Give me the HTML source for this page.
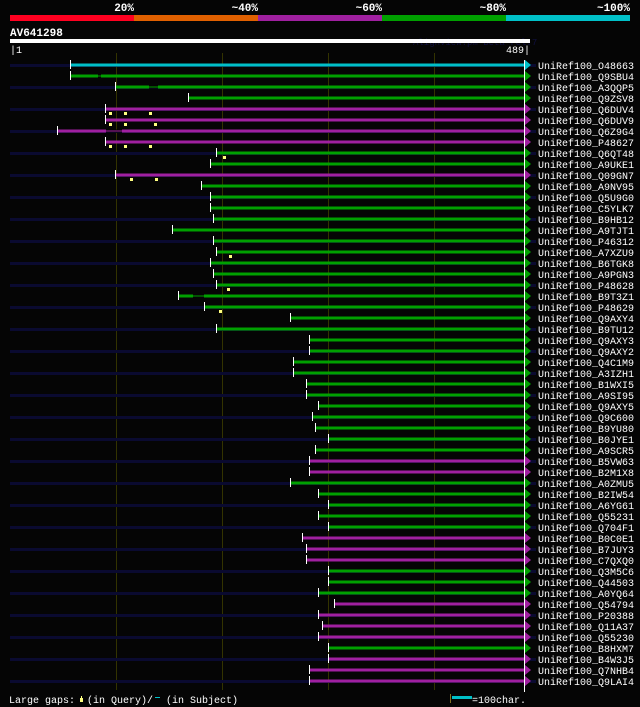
<!DOCTYPE html>
<html><head><meta charset="utf-8"><style>
html,body{margin:0;padding:0;background:#050505;}
svg{display:block;font-family:"Liberation Mono",monospace;}
</style></head><body>
<svg width="640" height="707" viewBox="0 0 640 707" xmlns="http://www.w3.org/2000/svg">
<rect width="640" height="707" fill="#050505"/>
<g font-weight="bold" font-size="11" fill="#fff" text-anchor="end">
<text x="134" y="11">20%</text><text x="258" y="11">~40%</text><text x="382" y="11">~60%</text><text x="506" y="11">~80%</text><text x="630" y="11">~100%</text>
</g>
<rect x="10" y="15" width="124" height="6" fill="#ff0020"/>
<rect x="134" y="15" width="124" height="6" fill="#e06000"/>
<rect x="258" y="15" width="124" height="6" fill="#a020a0"/>
<rect x="382" y="15" width="124" height="6" fill="#00a000"/>
<rect x="506" y="15" width="124" height="6" fill="#00c0c8"/>
<text x="10" y="36" font-weight="bold" font-size="11" fill="#fff">AV641298</text>
<text x="413" y="45" font-size="9" fill="#101040">AlignView.pm Beta rel.7</text>
<rect x="10" y="39" width="520" height="4" fill="#fff"/>
<text x="10" y="53" font-size="10" fill="#fff">|1</text>
<text x="530" y="53" font-size="10" fill="#fff" text-anchor="end">489|</text>
<g stroke="#333300" stroke-width="1">
<line x1="116.5" y1="53" x2="116.5" y2="690"/><line x1="222.5" y1="53" x2="222.5" y2="690"/><line x1="328.5" y1="53" x2="328.5" y2="690"/><line x1="434.5" y1="53" x2="434.5" y2="690"/>
</g>
<g id="rows" font-size="10" fill="#fff">
<!-- navy lines on odd rows -->
<g fill="#0a0a30">
<rect x="10" y="64" width="526" height="3"/><rect x="10" y="86" width="526" height="3"/><rect x="10" y="108" width="526" height="3"/><rect x="10" y="130" width="526" height="3"/><rect x="10" y="152" width="526" height="3"/><rect x="10" y="174" width="526" height="3"/><rect x="10" y="196" width="526" height="3"/><rect x="10" y="218" width="526" height="3"/><rect x="10" y="240" width="526" height="3"/><rect x="10" y="262" width="526" height="3"/><rect x="10" y="284" width="526" height="3"/><rect x="10" y="306" width="526" height="3"/><rect x="10" y="328" width="526" height="3"/><rect x="10" y="350" width="526" height="3"/><rect x="10" y="372" width="526" height="3"/><rect x="10" y="394" width="526" height="3"/><rect x="10" y="416" width="526" height="3"/><rect x="10" y="438" width="526" height="3"/><rect x="10" y="460" width="526" height="3"/><rect x="10" y="482" width="526" height="3"/><rect x="10" y="504" width="526" height="3"/><rect x="10" y="526" width="526" height="3"/><rect x="10" y="548" width="526" height="3"/><rect x="10" y="570" width="526" height="3"/><rect x="10" y="592" width="526" height="3"/><rect x="10" y="614" width="526" height="3"/><rect x="10" y="636" width="526" height="3"/><rect x="10" y="658" width="526" height="3"/><rect x="10" y="680" width="526" height="3"/>
</g>
<!-- bars: y = row center - 1.5 -->
<g>
<rect x="70" y="63.5" width="454" height="3" fill="#00c0c8"/>
<rect x="70" y="74.5" width="454" height="3" fill="#00a000"/>
<rect x="115" y="85.5" width="409" height="3" fill="#00a000"/>
<rect x="188" y="96.5" width="336" height="3" fill="#00a000"/>
<rect x="105" y="107.5" width="419" height="3" fill="#a020a0"/>
<rect x="105" y="118.5" width="419" height="3" fill="#a020a0"/>
<rect x="58" y="129.5" width="466" height="3" fill="#a020a0"/>
<rect x="105" y="140.5" width="419" height="3" fill="#a020a0"/>
<rect x="217" y="151.5" width="307" height="3" fill="#00a000"/>
<rect x="211" y="162.5" width="313" height="3" fill="#00a000"/>
<rect x="115" y="173.5" width="409" height="3" fill="#a020a0"/>
<rect x="202" y="184.5" width="322" height="3" fill="#00a000"/>
<rect x="210" y="195.5" width="314" height="3" fill="#00a000"/>
<rect x="210" y="206.5" width="314" height="3" fill="#00a000"/>
<rect x="213" y="217.5" width="311" height="3" fill="#00a000"/>
<rect x="173" y="228.5" width="351" height="3" fill="#00a000"/>
<rect x="213" y="239.5" width="311" height="3" fill="#00a000"/>
<rect x="216" y="250.5" width="308" height="3" fill="#00a000"/>
<rect x="211" y="261.5" width="313" height="3" fill="#00a000"/>
<rect x="213" y="272.5" width="311" height="3" fill="#00a000"/>
<rect x="216" y="283.5" width="308" height="3" fill="#00a000"/>
<rect x="179" y="294.5" width="345" height="3" fill="#00a000"/>
<rect x="205" y="305.5" width="319" height="3" fill="#00a000"/>
<rect x="290" y="316.5" width="234" height="3" fill="#00a000"/>
<rect x="216" y="327.5" width="308" height="3" fill="#00a000"/>
<rect x="309" y="338.5" width="215" height="3" fill="#00a000"/>
<rect x="309" y="349.5" width="215" height="3" fill="#00a000"/>
<rect x="293" y="360.5" width="231" height="3" fill="#00a000"/>
<rect x="293" y="371.5" width="231" height="3" fill="#00a000"/>
<rect x="306" y="382.5" width="218" height="3" fill="#00a000"/>
<rect x="306" y="393.5" width="218" height="3" fill="#00a000"/>
<rect x="318" y="404.5" width="206" height="3" fill="#00a000"/>
<rect x="312" y="415.5" width="212" height="3" fill="#00a000"/>
<rect x="315" y="426.5" width="209" height="3" fill="#00a000"/>
<rect x="328" y="437.5" width="196" height="3" fill="#00a000"/>
<rect x="315" y="448.5" width="209" height="3" fill="#00a000"/>
<rect x="309" y="459.5" width="215" height="3" fill="#a020a0"/>
<rect x="309" y="470.5" width="215" height="3" fill="#a020a0"/>
<rect x="290" y="481.5" width="234" height="3" fill="#00a000"/>
<rect x="318" y="492.5" width="206" height="3" fill="#00a000"/>
<rect x="328" y="503.5" width="196" height="3" fill="#00a000"/>
<rect x="318" y="514.5" width="206" height="3" fill="#00a000"/>
<rect x="328" y="525.5" width="196" height="3" fill="#00a000"/>
<rect x="302" y="536.5" width="222" height="3" fill="#a020a0"/>
<rect x="306" y="547.5" width="218" height="3" fill="#a020a0"/>
<rect x="306" y="558.5" width="218" height="3" fill="#a020a0"/>
<rect x="328" y="569.5" width="196" height="3" fill="#00a000"/>
<rect x="328" y="580.5" width="196" height="3" fill="#00a000"/>
<rect x="318" y="591.5" width="206" height="3" fill="#00a000"/>
<rect x="334" y="602.5" width="190" height="3" fill="#a020a0"/>
<rect x="318" y="613.5" width="206" height="3" fill="#a020a0"/>
<rect x="322" y="624.5" width="202" height="3" fill="#a020a0"/>
<rect x="318" y="635.5" width="206" height="3" fill="#a020a0"/>
<rect x="328" y="646.5" width="196" height="3" fill="#00a000"/>
<rect x="328" y="657.5" width="196" height="3" fill="#a020a0"/>
<rect x="309" y="668.5" width="215" height="3" fill="#a020a0"/>
<rect x="309" y="679.5" width="215" height="3" fill="#a020a0"/>
</g>
<!-- subject gaps -->
<g fill="#050505">
<rect x="98" y="74.5" width="3" height="1"/><rect x="98" y="76.5" width="3" height="1"/>
<rect x="149" y="85.5" width="9" height="1"/><rect x="149" y="87.5" width="9" height="1"/>
<rect x="106" y="129.5" width="16" height="1"/><rect x="106" y="131.5" width="16" height="1"/>
<rect x="193" y="294.5" width="11" height="1"/><rect x="193" y="296.5" width="11" height="1"/>
</g>
<!-- start ticks -->
<g fill="#fff">
<rect x="70" y="60" width="1" height="9"/><rect x="70" y="71" width="1" height="9"/><rect x="115" y="82" width="1" height="9"/><rect x="188" y="93" width="1" height="9"/><rect x="105" y="104" width="1" height="9"/><rect x="105" y="115" width="1" height="9"/><rect x="57" y="126" width="1" height="9"/><rect x="105" y="137" width="1" height="9"/><rect x="216" y="148" width="1" height="9"/><rect x="210" y="159" width="1" height="9"/><rect x="115" y="170" width="1" height="9"/><rect x="201" y="181" width="1" height="9"/><rect x="210" y="192" width="1" height="9"/><rect x="210" y="203" width="1" height="9"/><rect x="213" y="214" width="1" height="9"/><rect x="172" y="225" width="1" height="9"/><rect x="213" y="236" width="1" height="9"/><rect x="216" y="247" width="1" height="9"/><rect x="210" y="258" width="1" height="9"/><rect x="213" y="269" width="1" height="9"/><rect x="216" y="280" width="1" height="9"/><rect x="178" y="291" width="1" height="9"/><rect x="204" y="302" width="1" height="9"/><rect x="290" y="313" width="1" height="9"/><rect x="216" y="324" width="1" height="9"/><rect x="309" y="335" width="1" height="9"/><rect x="309" y="346" width="1" height="9"/><rect x="293" y="357" width="1" height="9"/><rect x="293" y="368" width="1" height="9"/><rect x="306" y="379" width="1" height="9"/><rect x="306" y="390" width="1" height="9"/><rect x="318" y="401" width="1" height="9"/><rect x="312" y="412" width="1" height="9"/><rect x="315" y="423" width="1" height="9"/><rect x="328" y="434" width="1" height="9"/><rect x="315" y="445" width="1" height="9"/><rect x="309" y="456" width="1" height="9"/><rect x="309" y="467" width="1" height="9"/><rect x="290" y="478" width="1" height="9"/><rect x="318" y="489" width="1" height="9"/><rect x="328" y="500" width="1" height="9"/><rect x="318" y="511" width="1" height="9"/><rect x="328" y="522" width="1" height="9"/><rect x="302" y="533" width="1" height="9"/><rect x="306" y="544" width="1" height="9"/><rect x="306" y="555" width="1" height="9"/><rect x="328" y="566" width="1" height="9"/><rect x="328" y="577" width="1" height="9"/><rect x="318" y="588" width="1" height="9"/><rect x="334" y="599" width="1" height="9"/><rect x="318" y="610" width="1" height="9"/><rect x="322" y="621" width="1" height="9"/><rect x="318" y="632" width="1" height="9"/><rect x="328" y="643" width="1" height="9"/><rect x="328" y="654" width="1" height="9"/><rect x="309" y="665" width="1" height="9"/><rect x="309" y="676" width="1" height="9"/>
</g>
<!-- end triangles -->
<g>
<rect x="524" y="60" width="1" height="632" fill="#fff"/>
<polygon points="525,60 531,65 525,70" fill="#00c0c8"/>
<polygon points="525,71 531,76 525,81" fill="#00a000"/><polygon points="525,82 531,87 525,92" fill="#00a000"/><polygon points="525,93 531,98 525,103" fill="#00a000"/>
<polygon points="525,104 531,109 525,114" fill="#a020a0"/><polygon points="525,115 531,120 525,125" fill="#a020a0"/><polygon points="525,126 531,131 525,136" fill="#a020a0"/><polygon points="525,137 531,142 525,147" fill="#a020a0"/>
<polygon points="525,148 531,153 525,158" fill="#00a000"/><polygon points="525,159 531,164 525,169" fill="#00a000"/>
<polygon points="525,170 531,175 525,180" fill="#a020a0"/>
<polygon points="525,181 531,186 525,191" fill="#00a000"/><polygon points="525,192 531,197 525,202" fill="#00a000"/><polygon points="525,203 531,208 525,213" fill="#00a000"/><polygon points="525,214 531,219 525,224" fill="#00a000"/><polygon points="525,225 531,230 525,235" fill="#00a000"/><polygon points="525,236 531,241 525,246" fill="#00a000"/><polygon points="525,247 531,252 525,257" fill="#00a000"/><polygon points="525,258 531,263 525,268" fill="#00a000"/><polygon points="525,269 531,274 525,279" fill="#00a000"/><polygon points="525,280 531,285 525,290" fill="#00a000"/><polygon points="525,291 531,296 525,301" fill="#00a000"/><polygon points="525,302 531,307 525,312" fill="#00a000"/><polygon points="525,313 531,318 525,323" fill="#00a000"/><polygon points="525,324 531,329 525,334" fill="#00a000"/><polygon points="525,335 531,340 525,345" fill="#00a000"/><polygon points="525,346 531,351 525,356" fill="#00a000"/><polygon points="525,357 531,362 525,367" fill="#00a000"/><polygon points="525,368 531,373 525,378" fill="#00a000"/><polygon points="525,379 531,384 525,389" fill="#00a000"/><polygon points="525,390 531,395 525,400" fill="#00a000"/><polygon points="525,401 531,406 525,411" fill="#00a000"/><polygon points="525,412 531,417 525,422" fill="#00a000"/><polygon points="525,423 531,428 525,433" fill="#00a000"/><polygon points="525,434 531,439 525,444" fill="#00a000"/><polygon points="525,445 531,450 525,455" fill="#00a000"/>
<polygon points="525,456 531,461 525,466" fill="#a020a0"/><polygon points="525,467 531,472 525,477" fill="#a020a0"/>
<polygon points="525,478 531,483 525,488" fill="#00a000"/><polygon points="525,489 531,494 525,499" fill="#00a000"/><polygon points="525,500 531,505 525,510" fill="#00a000"/><polygon points="525,511 531,516 525,521" fill="#00a000"/><polygon points="525,522 531,527 525,532" fill="#00a000"/>
<polygon points="525,533 531,538 525,543" fill="#a020a0"/><polygon points="525,544 531,549 525,554" fill="#a020a0"/><polygon points="525,555 531,560 525,565" fill="#a020a0"/>
<polygon points="525,566 531,571 525,576" fill="#00a000"/><polygon points="525,577 531,582 525,587" fill="#00a000"/><polygon points="525,588 531,593 525,598" fill="#00a000"/>
<polygon points="525,599 531,604 525,609" fill="#a020a0"/><polygon points="525,610 531,615 525,620" fill="#a020a0"/><polygon points="525,621 531,626 525,631" fill="#a020a0"/><polygon points="525,632 531,637 525,642" fill="#a020a0"/>
<polygon points="525,643 531,648 525,653" fill="#00a000"/>
<polygon points="525,654 531,659 525,664" fill="#a020a0"/><polygon points="525,665 531,670 525,675" fill="#a020a0"/><polygon points="525,676 531,681 525,686" fill="#a020a0"/>
</g>
<!-- query gap markers -->
<g fill="#ffff80">
<rect x="109" y="112" width="3" height="3"/><rect x="124" y="112" width="3" height="3"/><rect x="149" y="112" width="3" height="3"/>
<rect x="109" y="123" width="3" height="3"/><rect x="124" y="123" width="3" height="3"/><rect x="154" y="123" width="3" height="3"/>
<rect x="109" y="145" width="3" height="3"/><rect x="124" y="145" width="3" height="3"/><rect x="149" y="145" width="3" height="3"/>
<rect x="223" y="156" width="3" height="3"/>
<rect x="130" y="178" width="3" height="3"/><rect x="155" y="178" width="3" height="3"/>
<rect x="229" y="255" width="3" height="3"/>
<rect x="227" y="288" width="3" height="3"/>
<rect x="219" y="310" width="3" height="3"/>
</g>
<!-- labels -->
<g>
<text x="538" y="69">UniRef100_O48663</text><text x="538" y="80">UniRef100_Q9SBU4</text><text x="538" y="91">UniRef100_A3QQP5</text><text x="538" y="102">UniRef100_Q9ZSV8</text><text x="538" y="113">UniRef100_Q6DUV4</text><text x="538" y="124">UniRef100_Q6DUV9</text><text x="538" y="135">UniRef100_Q6Z9G4</text><text x="538" y="146">UniRef100_P48627</text><text x="538" y="157">UniRef100_Q6QT48</text><text x="538" y="168">UniRef100_A9UKE1</text><text x="538" y="179">UniRef100_Q09GN7</text><text x="538" y="190">UniRef100_A9NV95</text><text x="538" y="201">UniRef100_Q5U9G0</text><text x="538" y="212">UniRef100_C5YLK7</text><text x="538" y="223">UniRef100_B9HB12</text><text x="538" y="234">UniRef100_A9TJT1</text><text x="538" y="245">UniRef100_P46312</text><text x="538" y="256">UniRef100_A7XZU9</text><text x="538" y="267">UniRef100_B6TGK8</text><text x="538" y="278">UniRef100_A9PGN3</text><text x="538" y="289">UniRef100_P48628</text><text x="538" y="300">UniRef100_B9T3Z1</text><text x="538" y="311">UniRef100_P48629</text><text x="538" y="322">UniRef100_Q9AXY4</text><text x="538" y="333">UniRef100_B9TU12</text><text x="538" y="344">UniRef100_Q9AXY3</text><text x="538" y="355">UniRef100_Q9AXY2</text><text x="538" y="366">UniRef100_Q4C1M9</text><text x="538" y="377">UniRef100_A3IZH1</text><text x="538" y="388">UniRef100_B1WXI5</text><text x="538" y="399">UniRef100_A9SI95</text><text x="538" y="410">UniRef100_Q9AXY5</text><text x="538" y="421">UniRef100_Q9C600</text><text x="538" y="432">UniRef100_B9YU80</text><text x="538" y="443">UniRef100_B0JYE1</text><text x="538" y="454">UniRef100_A9SCR5</text><text x="538" y="465">UniRef100_B5VW63</text><text x="538" y="476">UniRef100_B2M1X8</text><text x="538" y="487">UniRef100_A0ZMU5</text><text x="538" y="498">UniRef100_B2IW54</text><text x="538" y="509">UniRef100_A6YG61</text><text x="538" y="520">UniRef100_Q55231</text><text x="538" y="531">UniRef100_Q704F1</text><text x="538" y="542">UniRef100_B0C0E1</text><text x="538" y="553">UniRef100_B7JUY3</text><text x="538" y="564">UniRef100_C7QXQ0</text><text x="538" y="575">UniRef100_Q3M5C6</text><text x="538" y="586">UniRef100_Q44503</text><text x="538" y="597">UniRef100_A0YQ64</text><text x="538" y="608">UniRef100_Q54794</text><text x="538" y="619">UniRef100_P20388</text><text x="538" y="630">UniRef100_Q11A37</text><text x="538" y="641">UniRef100_Q55230</text><text x="538" y="652">UniRef100_B8HXM7</text><text x="538" y="663">UniRef100_B4W3J5</text><text x="538" y="674">UniRef100_Q7NHB4</text><text x="538" y="685">UniRef100_Q9LAI4</text>
</g>
</g>
<!-- legend -->
<text x="9" y="703" font-size="10" fill="#fff">Large gaps:</text>
<rect x="80" y="698" width="3" height="4" fill="#ffff80"/><rect x="81" y="696" width="1" height="2" fill="#ffff80"/>
<text x="87" y="703" font-size="10" fill="#fff">(in Query)/</text>
<rect x="155" y="697" width="5" height="1" fill="#00c0c8"/>
<text x="166" y="703" font-size="10" fill="#fff">(in Subject)</text>
<rect x="450" y="694" width="1" height="9" fill="#807020"/>
<rect x="452" y="696" width="20" height="3" fill="#00c0c8"/>
<text x="472" y="703" font-size="10" fill="#fff">=100char.</text>
</svg>
</body></html>
